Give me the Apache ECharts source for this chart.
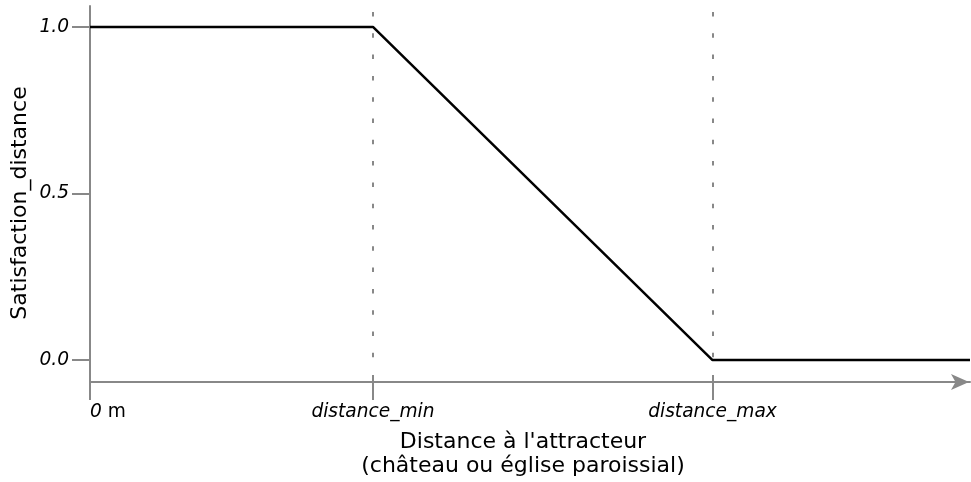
<!DOCTYPE html>
<html>
<head>
<meta charset="utf-8">
<script src="https://cdn.jsdelivr.net/npm/echarts@6/dist/echarts.min.js"></script>
<style>html,body{margin:0;padding:0;background:#fff}#c{width:971px;height:482px}</style>
</head>
<body>
<div id="c"></div>
<script>
// ---- data ----
const xTickValues = [0, 1, 2.2];
const xTickLabels = ['0 m', 'distance_min', 'distance_max'];
const yTickValues = [0, 0.5, 1];
const yTickLabels = ['0.0', '0.5', '1.0'];
const curveX = [0, 1, 2.2, 3.11];
const curveY = [1, 1, 0, 0];
const guideX = [1, 2.2];
const guideTop = 1.045;
const xMin = 0, xMax = 3.11;
const yMin = -0.066, yMax = 1.063;
const yTitle = 'Satisfaction_distance';
const xTitle = "Distance à l'attracteur\n(château ou église paroissial)";

const FONT = 'DejaVu Sans';
const GREY = '#888888';
const TICKFS = 18.6;

const chart = echarts.init(document.getElementById('c'), null, {renderer: 'canvas'});

function xLabelFmt(v) {
  const i = xTickValues.indexOf(v);
  const s = i >= 0 ? xTickLabels[i] : '';
  if (s === '0 m') return '{i|0}{n| m}';
  return '{i|' + s + '}';
}
function yLabelFmt(v) {
  const i = yTickValues.indexOf(v);
  return i >= 0 ? yTickLabels[i] : '';
}

const option = {
  animation: false,
  grid: {left: 90, right: 1, top: 6, bottom: 100, containLabel: false},
  xAxis: [{
    type: 'value', min: xMin, max: xMax, position: 'bottom',
    axisLine: {show: true, onZero: false, symbol: ['none', 'arrow'], symbolSize: [12, 18], symbolOffset: [0, -1],
      lineStyle: {color: GREY, width: 2}},
    axisTick: {show: true, inside: false, length: 18, customValues: xTickValues, lineStyle: {color: GREY, width: 2}},
    axisLabel: {show: true, customValues: xTickValues, margin: 21, alignMinLabel: 'left', formatter: xLabelFmt,
      rich: {
        i: {fontFamily: FONT, fontStyle: 'italic', fontSize: TICKFS, color: '#000'},
        n: {fontFamily: FONT, fontStyle: 'normal', fontSize: TICKFS, color: '#000'}
      }},
    splitLine: {show: false}
  }, {
    type: 'value', min: xMin, max: xMax, position: 'bottom',
    axisLine: {show: false, onZero: false},
    axisTick: {show: true, inside: true, length: 7, customValues: xTickValues, lineStyle: {color: GREY, width: 2}},
    axisLabel: {show: false},
    splitLine: {show: false}
  }],
  yAxis: {
    type: 'value', min: yMin, max: yMax,
    axisLine: {show: true, onZero: false, lineStyle: {color: GREY, width: 2}},
    axisTick: {show: true, inside: false, length: 18, customValues: yTickValues, lineStyle: {color: GREY, width: 2}},
    axisLabel: {show: true, customValues: yTickValues, margin: 21, formatter: yLabelFmt,
      fontFamily: FONT, fontStyle: 'italic', fontSize: TICKFS, color: '#000'},
    splitLine: {show: false}
  },
  series: [{
    type: 'line',
    xAxisIndex: 0,
    data: curveX.map((x, i) => [x, curveY[i]]),
    showSymbol: false,
    symbol: 'none',
    lineStyle: {color: '#000', width: 2.5},
    clip: false,
    markLine: {
      silent: true,
      symbol: ['none', 'none'],
      label: {show: false},
      lineStyle: {color: GREY, width: 2, type: [4.5, 16.8], cap: 'butt'},
      data: guideX.map(x => [{coord: [x, guideTop]}, {coord: [x, 0]}])
    },
    z: 5
  }],
  graphic: [{
    type: 'text', x: 20, y: 203, rotation: Math.PI / 2,
    style: {text: yTitle, fontFamily: FONT, fontSize: 22, fill: '#000', align: 'center', verticalAlign: 'middle'}
  }, {
    type: 'text', x: 523, y: 431,
    style: {text: xTitle, fontFamily: FONT, fontSize: 22, lineHeight: 23.5, fill: '#000', align: 'center', verticalAlign: 'top'}
  }]
};
chart.setOption(option);
</script>
</body>
</html>
